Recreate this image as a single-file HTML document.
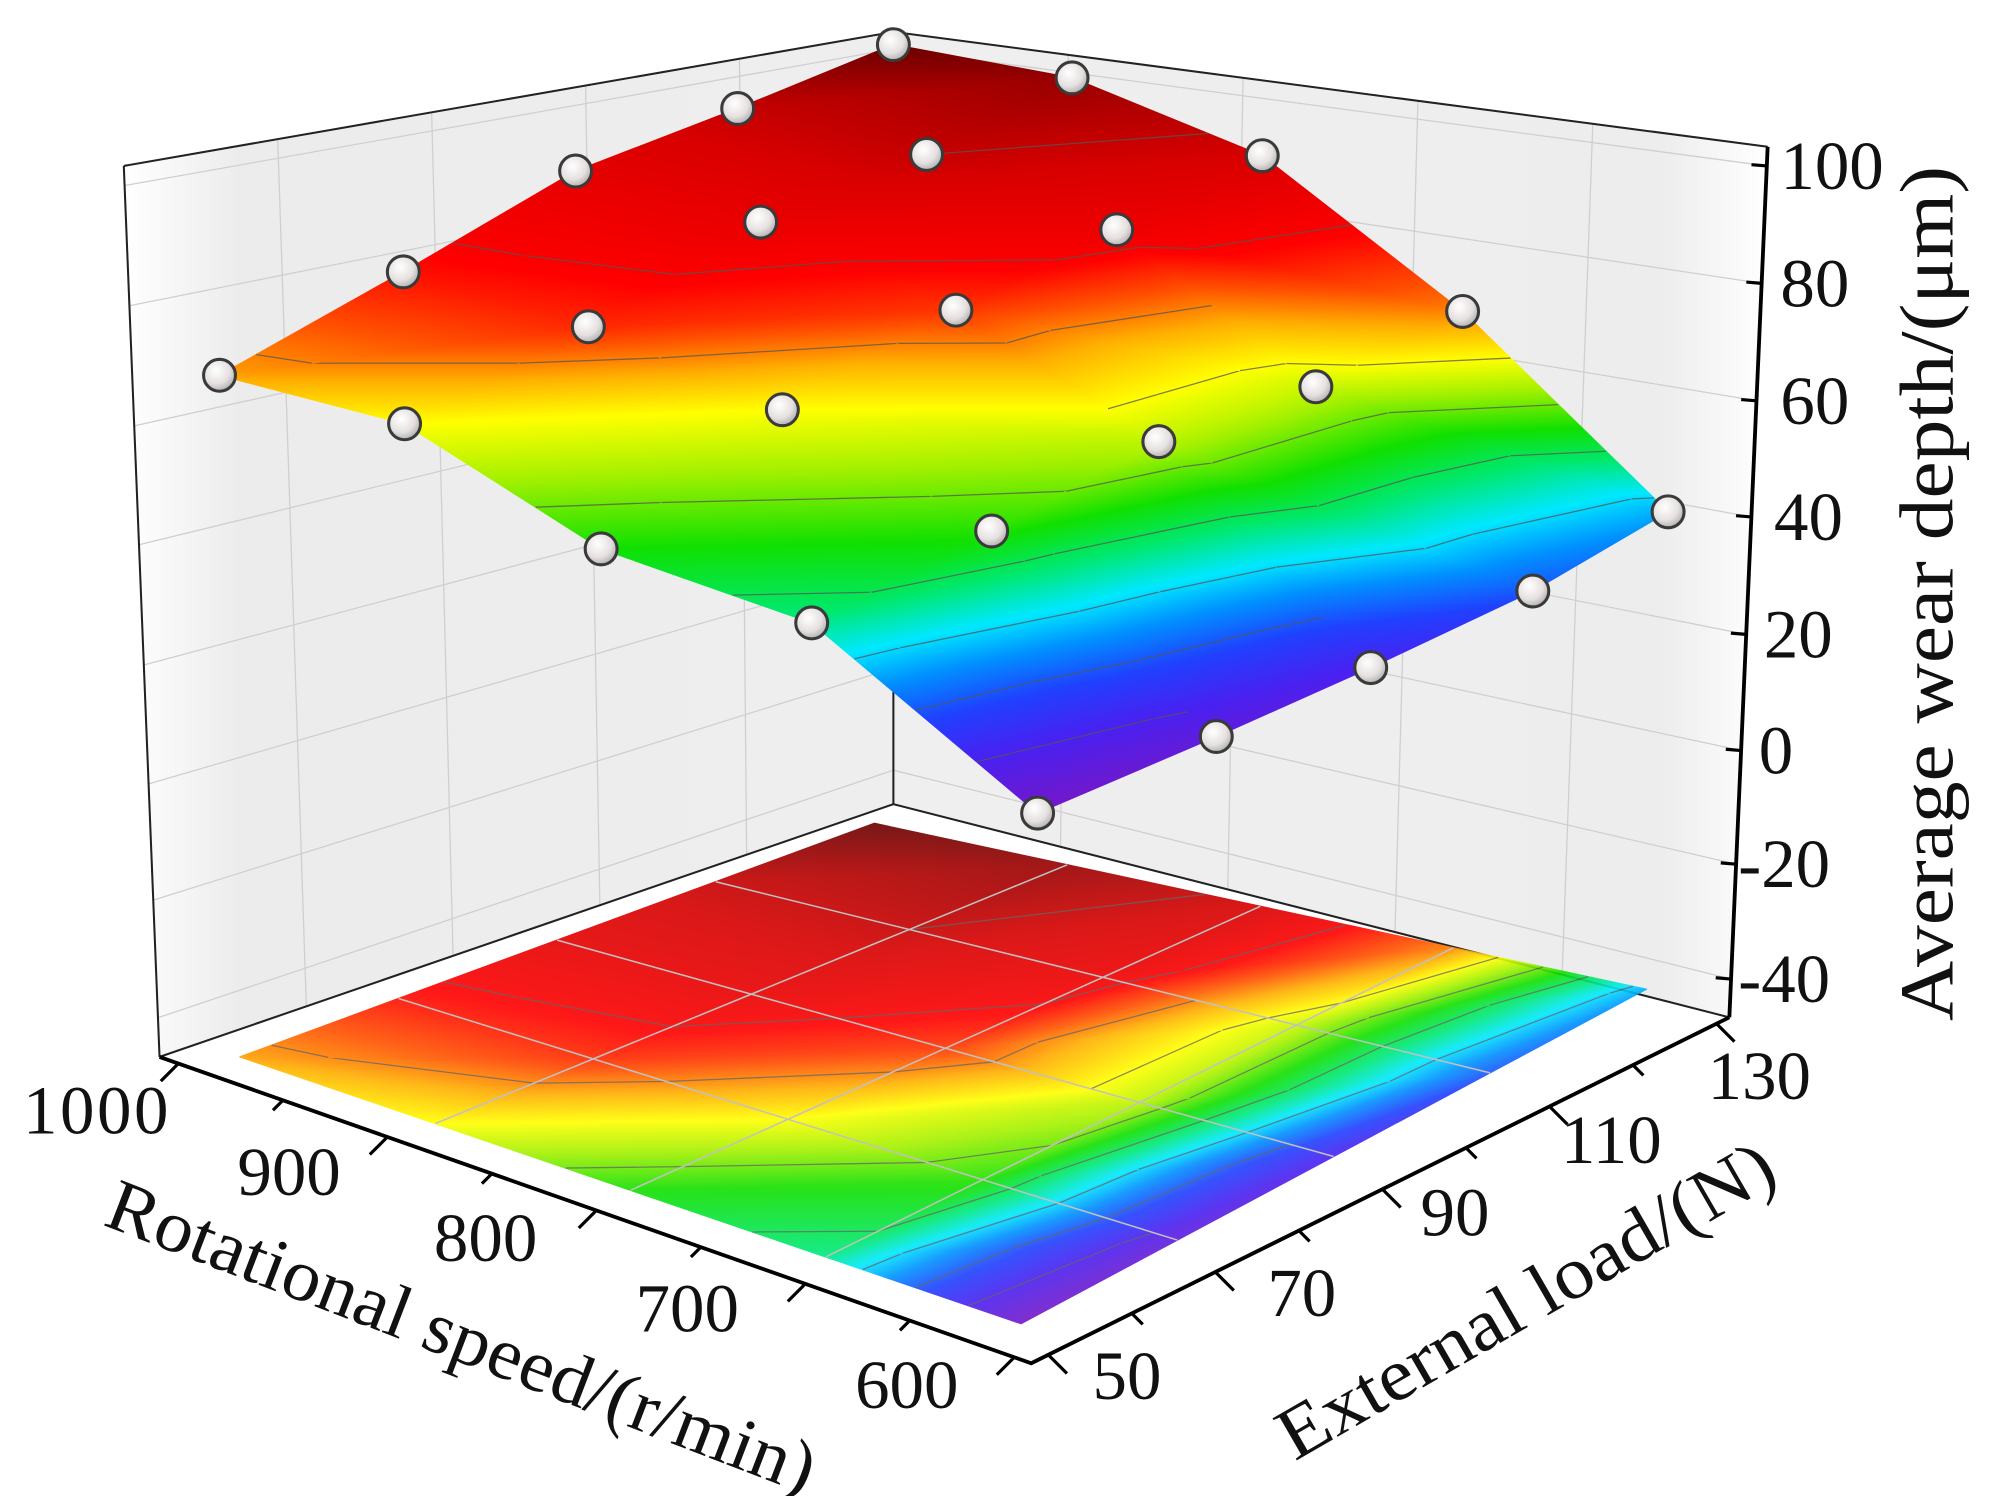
<!DOCTYPE html>
<html><head><meta charset="utf-8"><style>
html,body{margin:0;padding:0;background:#fff}
svg{display:block}
text{font-family:"Liberation Serif",serif;fill:#111}
</style></head><body>
<svg id="s" width="1991" height="1496" viewBox="0 0 1560 1172" preserveAspectRatio="none" xmlns="http://www.w3.org/2000/svg">
<defs>
<linearGradient id="lw" x1="97" y1="0" x2="700" y2="0" gradientUnits="userSpaceOnUse">
<stop offset="0" stop-color="#fff"/><stop offset="0.15" stop-color="#ececec"/><stop offset="1" stop-color="#eeeeee"/></linearGradient>
<linearGradient id="rw" x1="700" y1="0" x2="1385" y2="0" gradientUnits="userSpaceOnUse">
<stop offset="0" stop-color="#efefef"/><stop offset="0.88" stop-color="#ededed"/><stop offset="1" stop-color="#fff"/></linearGradient>
<radialGradient id="bub" cx="0.4" cy="0.35" r="0.7">
<stop offset="0" stop-color="#ffffff"/><stop offset="0.6" stop-color="#e6e0e0"/><stop offset="1" stop-color="#a8a8a8"/></radialGradient>
</defs>
<polygon points="700,25 97,130 125,828 700,630" fill="url(#lw)"/>
<polygon points="700,25 1385,115 1355,797 700,630" fill="url(#rw)"/>
<polygon points="700,630 125,828 808,1068 1355,797" fill="#fff"/>
<g id="grid" stroke="#cfcfcf" stroke-width="1" fill="none"></g>
<g id="frame" stroke="#222" stroke-width="1.6" fill="none">
<polyline points="97,130 700,25 1385,115"/>
<line x1="97" y1="130" x2="125" y2="828"/>
<line x1="700" y1="25" x2="700" y2="630"/>
<polyline points="125,828 700,630 1355,797"/>
</g>
<g id="floor" opacity="0.9"></g>
<g id="surf"></g>
<g id="bubs"></g>
<g id="axes" stroke="#000" stroke-width="3" fill="none">
<line x1="1385" y1="115" x2="1355" y2="797"/>
<polyline points="125,828 808,1068 1355,797"/>
</g>
<g id="ticks" stroke="#000" stroke-width="2.5"></g>
<g font-size="54">
<text x="1395" y="148">100</text>
<text x="1395" y="240">80</text>
<text x="1395" y="332">60</text>
<text x="1390" y="423">40</text>
<text x="1382" y="515">20</text>
<text x="1378" y="606">0</text>
<text x="1362" y="695">-20</text>
<text x="1362" y="785">-40</text>
<text x="18" y="888" textLength="114">1000</text>
<text x="186" y="936">900</text>
<text x="340" y="988">800</text>
<text x="498" y="1043">700</text>
<text x="670" y="1103">600</text>
<text x="856" y="1096">50</text>
<text x="993" y="1031">70</text>
<text x="1113" y="968">90</text>
<text x="1223" y="911">110</text>
<text x="1338" y="861">130</text>
</g>
<text font-size="60" transform="translate(1530,465) rotate(-90)" text-anchor="middle" textLength="670" lengthAdjust="spacingAndGlyphs">Average wear depth/(μm)</text>
<text font-size="58" transform="translate(355,1065) rotate(21)" text-anchor="middle" textLength="590" lengthAdjust="spacingAndGlyphs">Rotational speed/(r/min)</text>
<text font-size="58" transform="translate(1205,1035) rotate(-30)" text-anchor="middle" textLength="440" lengthAdjust="spacingAndGlyphs">External load/(N)</text>
</svg>
<script>
var NS="http://www.w3.org/2000/svg";
function el(t,a,p){var e=document.createElementNS(NS,t);for(var k in a)e.setAttribute(k,a[k]);p.appendChild(e);return e;}
var svg=document.getElementById('s'),defs=svg.querySelector('defs');
var P=[[[172,294],[316,213],[451,134],[578,85],[700,35]],
[[317,332],[461,256],[596,174],[726,121],[840,61]],
[[471,430],[613,321],[749,243],[875,180],[989,122]],
[[636,488],[777,416],[908,346],[1031,303],[1146,244]],
[[813,637],[953,577],[1074,523],[1201,463],[1307,401]]];
var T=[[0.68,0.78,0.85,0.9,1.0],[0.6,0.76,0.84,0.9,0.95],[0.45,0.6,0.75,0.83,0.88],[0.37,0.46,0.55,0.56,0.7],[0.0,0.05,0.1,0.2,0.27]];
var L=[188,828],F=[800,1037],B=[685,645],R=[1290,775];
function fl(r,c){var u=r/4,v=c/4;return [(1-u)*(1-v)*L[0]+u*(1-v)*F[0]+(1-u)*v*B[0]+u*v*R[0],(1-u)*(1-v)*L[1]+u*(1-v)*F[1]+(1-u)*v*B[1]+u*v*R[1]];}
var Q=[];for(var r=0;r<5;r++){Q.push([]);for(var c=0;c<5;c++)Q[r].push(fl(r,c));}
var stops=[[0,'#7418c8'],[0.1,'#4a20f0'],[0.18,'#2040ff'],[0.25,'#0090ff'],[0.31,'#00e8ff'],[0.38,'#00e870'],[0.45,'#10e000'],[0.53,'#a0f000'],[0.6,'#ffff00'],[0.67,'#ffb000'],[0.73,'#ff5000'],[0.79,'#ff0000'],[0.88,'#d80000'],[1,'#6a0000']];
var gid=0;
function tri(g,p,t){
 var x0=p[0][0],y0=p[0][1],x1=p[1][0],y1=p[1][1],x2=p[2][0],y2=p[2][1];
 var det=(x1-x0)*(y2-y0)-(x2-x0)*(y1-y0);
 var a=((t[1]-t[0])*(y2-y0)-(t[2]-t[0])*(y1-y0))/det;
 var b=((x1-x0)*(t[2]-t[0])-(x2-x0)*(t[1]-t[0]))/det;
 var n=a*a+b*b;if(n<1e-12){a=1e-6;b=0;n=1e-12;}
 var ax=x0+a*(0-t[0])/n,ay=y0+b*(0-t[0])/n,bx=x0+a*(1-t[0])/n,by=y0+b*(1-t[0])/n;
 var id='g'+(gid++);
 var lg=el('linearGradient',{id:id,gradientUnits:'userSpaceOnUse',x1:ax,y1:ay,x2:bx,y2:by},defs);
 stops.forEach(function(s){el('stop',{offset:s[0],'stop-color':s[1]},lg);});
 var pts=p.map(function(q){return q.join(',')}).join(' ');
 el('polygon',{points:pts,fill:'url(#'+id+')',stroke:'url(#'+id+')','stroke-width':1,'stroke-linejoin':'round'},g);
 for(var lv=0.1;lv<1;lv+=0.1){
  var seg=[];
  for(var i=0;i<3;i++){var j=(i+1)%3;var ta=t[i],tb=t[j];
   if((ta-lv)*(tb-lv)<0){var f=(lv-ta)/(tb-ta);seg.push([p[i][0]+f*(p[j][0]-p[i][0]),p[i][1]+f*(p[j][1]-p[i][1])]);}}
  if(seg.length==2)el('line',{x1:seg[0][0],y1:seg[0][1],x2:seg[1][0],y2:seg[1][1],stroke:'#555','stroke-width':1,'stroke-opacity':0.75},g);
 }
}
var gs=document.getElementById('surf'),gf=document.getElementById('floor');
for(var r=0;r<4;r++)for(var c=0;c<4;c++){
 [[gs,P],[gf,Q]].forEach(function(o){var M=o[1];
  tri(o[0],[M[r][c],M[r+1][c],M[r+1][c+1]],[T[r][c],T[r+1][c],T[r+1][c+1]]);
  tri(o[0],[M[r][c],M[r+1][c+1],M[r][c+1]],[T[r][c],T[r+1][c+1],T[r][c+1]]);
 });
}
for(var k=1;k<4;k++){var a=fl(0,k),b=fl(4,k);el('line',{x1:a[0],y1:a[1],x2:b[0],y2:b[1],stroke:'#bbb','stroke-width':1.2},gf);
 a=fl(k,0);b=fl(k,4);el('line',{x1:a[0],y1:a[1],x2:b[0],y2:b[1],stroke:'#bbb','stroke-width':1.2},gf);}
var gb=document.getElementById('bubs');
P.forEach(function(row){row.forEach(function(q){el('circle',{cx:q[0],cy:q[1],r:12.5,fill:'url(#bub)',stroke:'#3a3a3a','stroke-width':2.4},gb);});});
var gg=document.getElementById('grid');
function lerp(a,b,f){return [a[0]+(b[0]-a[0])*f,a[1]+(b[1]-a[1])*f];}
var zs=[130,222,314,405,497,588,677,767];
zs.forEach(function(y){var f=(y-115)/(797-115);var rp=lerp([1385,115],[1355,797],f),cp=lerp([700,25],[700,630],f),lp=lerp([97,130],[125,828],f);
 el('polyline',{points:lp.join(',')+' '+cp.join(',')+' '+rp.join(',')},gg);});
[0.2,0.4,0.6,0.8].forEach(function(f){var a=lerp([700,25],[97,130],f),b=lerp([700,630],[125,828],f);el('line',{x1:a[0],y1:a[1],x2:b[0],y2:b[1]},gg);
 a=lerp([700,25],[1385,115],f);b=lerp([700,630],[1355,797],f);el('line',{x1:a[0],y1:a[1],x2:b[0],y2:b[1]},gg);});
var gt=document.getElementById('ticks');
zs.forEach(function(y){var f=(y-115)/(797-115);var x=1385-30*f;el('line',{x1:x,y1:y,x2:x-12,y2:y-1},gt);});
for(var i=0;i<=8;i++){var p=lerp([140,833],[795,1063],i/8);el('line',{x1:p[0],y1:p[1],x2:p[0]-(i%2?8:14),y2:p[1]+(i%2?8:14)},gt);}
for(var i=0;i<=8;i++){var p=lerp([822,1062],[1345,802],i/8);el('line',{x1:p[0],y1:p[1],x2:p[0]+(i%2?8:14),y2:p[1]+(i%2?8:14)},gt);}
</script>
</body></html>
